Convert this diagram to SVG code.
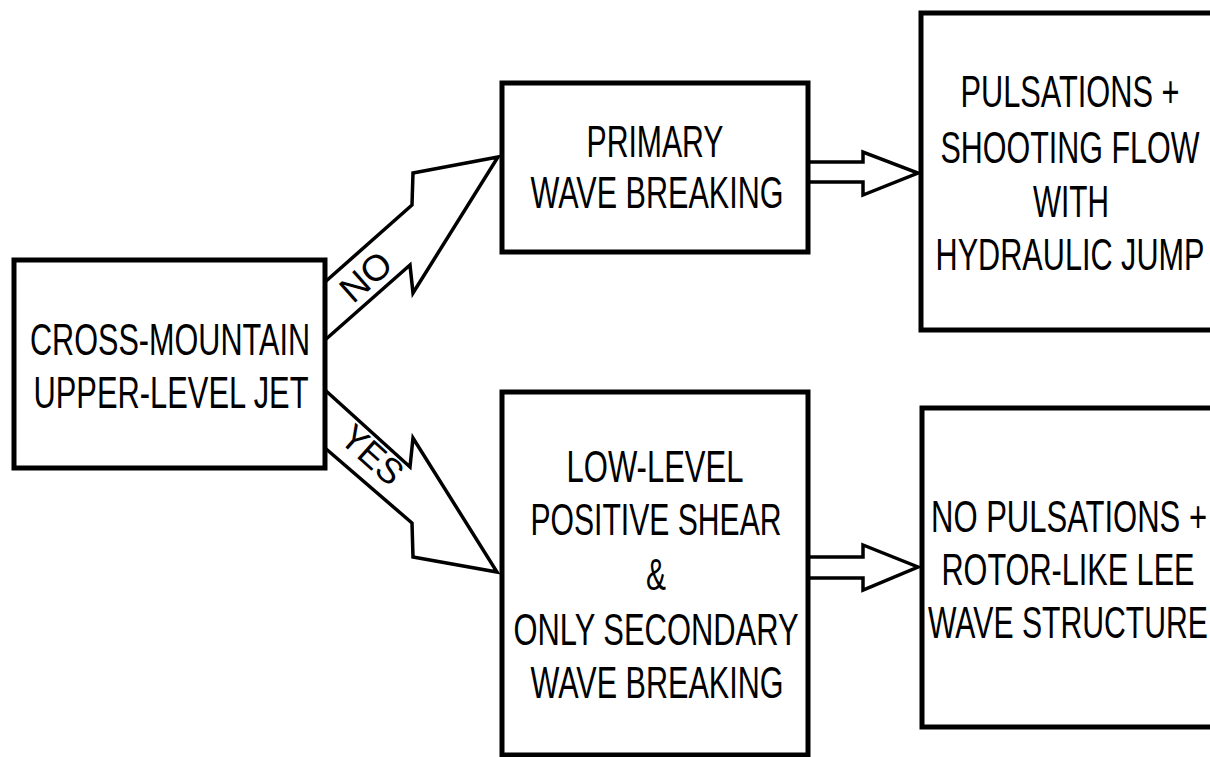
<svg xmlns="http://www.w3.org/2000/svg" width="1210" height="757" viewBox="0 0 1210 757">
<style>
.box{fill:#fff;stroke:#000;stroke-width:5}
.arr{fill:#fff;stroke:#000;stroke-width:3.5;stroke-linejoin:miter}
.t{font-family:"Liberation Sans",Arial,Helvetica,sans-serif;font-size:44px;fill:#000;text-anchor:middle}
.lab{font-family:"Liberation Sans",Arial,Helvetica,sans-serif;font-size:36px;fill:#000;text-anchor:middle}
</style>
<rect width="1210" height="757" fill="#fff"/>
<g id="connectors">
<path class="arr" d="M325,282 L412,205 L413,173 L498,157 L413,293 L410,265 L325,340"/>
<path class="arr" d="M325,390 L410,467 L413,438 L497,572 L413,557 L412,523 L325,448"/>
<path class="arr" d="M810,162 L863,162 L863,152 L918,173 L863,195 L863,182 L810,182"/>
<path class="arr" d="M809,557 L863,557 L863,545 L918,567 L863,590 L863,578 L809,578"/>
<text class="lab" transform="translate(374,286) rotate(-41.5)" textLength="56" lengthAdjust="spacingAndGlyphs">NO</text>
<text class="lab" transform="translate(364,464) rotate(42)" textLength="70" lengthAdjust="spacingAndGlyphs">YES</text>
</g>
<g id="n-jet">
<rect class="box" x="14" y="260" width="311" height="208"/>
<text class="t" x="170" y="355" textLength="280" lengthAdjust="spacingAndGlyphs">CROSS-MOUNTAIN</text>
<text class="t" x="171" y="408" textLength="275" lengthAdjust="spacingAndGlyphs">UPPER-LEVEL JET</text>
</g>
<g id="n-primary">
<rect class="box" x="502" y="83" width="306" height="169"/>
<text class="t" x="655" y="157" textLength="137" lengthAdjust="spacingAndGlyphs">PRIMARY</text>
<text class="t" x="657" y="208" textLength="253" lengthAdjust="spacingAndGlyphs">WAVE BREAKING</text>
</g>
<g id="n-pulsations">
<rect class="box" x="921" y="13" width="300" height="317"/>
<text class="t" x="1070" y="107" textLength="219" lengthAdjust="spacingAndGlyphs">PULSATIONS +</text>
<text class="t" x="1070" y="163" textLength="259" lengthAdjust="spacingAndGlyphs">SHOOTING FLOW</text>
<text class="t" x="1071" y="217" textLength="76" lengthAdjust="spacingAndGlyphs">WITH</text>
<text class="t" x="1070" y="270" textLength="269" lengthAdjust="spacingAndGlyphs">HYDRAULIC JUMP</text>
</g>
<g id="n-shear">
<rect class="box" x="502" y="392" width="306" height="363"/>
<text class="t" x="655" y="482" textLength="177" lengthAdjust="spacingAndGlyphs">LOW-LEVEL</text>
<text class="t" x="656" y="535" textLength="251" lengthAdjust="spacingAndGlyphs">POSITIVE SHEAR</text>
<text class="t" x="656" y="590" textLength="20" lengthAdjust="spacingAndGlyphs">&amp;</text>
<text class="t" x="656" y="645" textLength="285" lengthAdjust="spacingAndGlyphs">ONLY SECONDARY</text>
<text class="t" x="657" y="698" textLength="253" lengthAdjust="spacingAndGlyphs">WAVE BREAKING</text>
</g>
<g id="n-rotor">
<rect class="box" x="922" y="408" width="300" height="319"/>
<text class="t" x="1069" y="532" textLength="276" lengthAdjust="spacingAndGlyphs">NO PULSATIONS +</text>
<text class="t" x="1068" y="585" textLength="253" lengthAdjust="spacingAndGlyphs">ROTOR-LIKE LEE</text>
<text class="t" x="1068" y="638" textLength="280" lengthAdjust="spacingAndGlyphs">WAVE STRUCTURE</text>
</g>
</svg>
